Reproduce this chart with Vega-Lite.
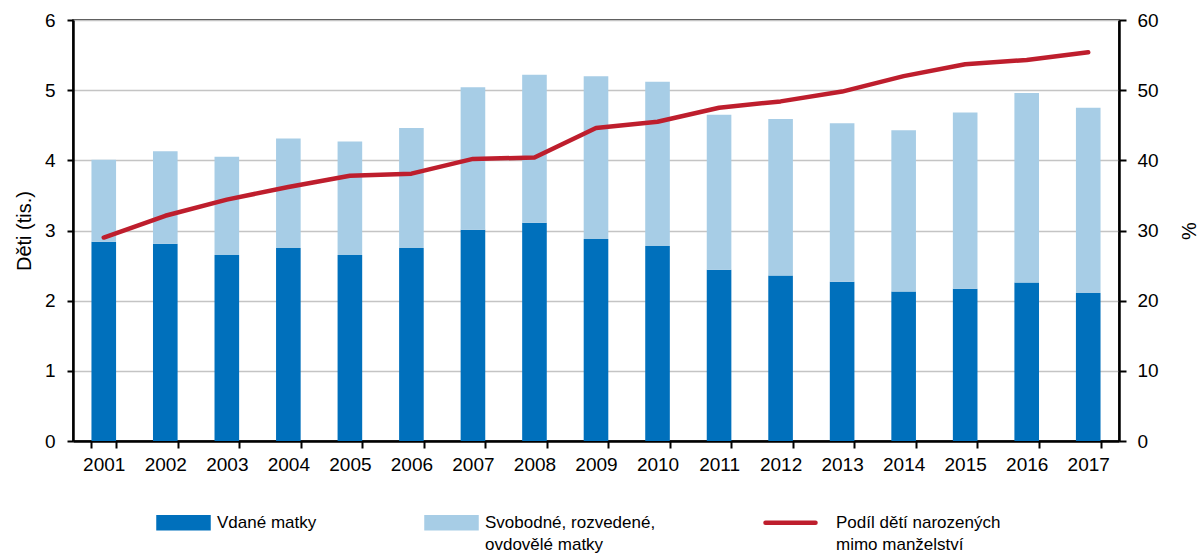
{
  "$schema": "https://vega.github.io/schema/vega-lite/v6.json",
  "width": 1046,
  "height": 421,
  "autosize": {"type": "none"},
  "padding": {"left": 73, "top": 20, "right": 84, "bottom": 119},
  "background": "white",
  "config": {
    "font": "Liberation Sans",
    "view": {"stroke": "black", "strokeWidth": 1.5},
    "axis": {
      "labelFont": "Liberation Sans", "labelFontSize": 19, "labelColor": "black",
      "titleFont": "Liberation Sans", "titleFontSize": 20, "titleFontWeight": "normal", "titleColor": "black",
      "domainColor": "black", "domainWidth": 2.5, "tickColor": "black", "tickWidth": 2, "tickSize": 6
    }
  },
  "datasets": {
    "bars": [
      {"year": "2001", "series": "Vdané matky", "value": 2.84},
      {"year": "2001", "series": "Svobodné, rozvedené, ovdovělé matky", "value": 1.17},
      {"year": "2002", "series": "Vdané matky", "value": 2.81},
      {"year": "2002", "series": "Svobodné, rozvedené, ovdovělé matky", "value": 1.32},
      {"year": "2003", "series": "Vdané matky", "value": 2.65},
      {"year": "2003", "series": "Svobodné, rozvedené, ovdovělé matky", "value": 1.40},
      {"year": "2004", "series": "Vdané matky", "value": 2.75},
      {"year": "2004", "series": "Svobodné, rozvedené, ovdovělé matky", "value": 1.56},
      {"year": "2005", "series": "Vdané matky", "value": 2.65},
      {"year": "2005", "series": "Svobodné, rozvedené, ovdovělé matky", "value": 1.62},
      {"year": "2006", "series": "Vdané matky", "value": 2.75},
      {"year": "2006", "series": "Svobodné, rozvedené, ovdovělé matky", "value": 1.71},
      {"year": "2007", "series": "Vdané matky", "value": 3.01},
      {"year": "2007", "series": "Svobodné, rozvedené, ovdovělé matky", "value": 2.03},
      {"year": "2008", "series": "Vdané matky", "value": 3.11},
      {"year": "2008", "series": "Svobodné, rozvedené, ovdovělé matky", "value": 2.11},
      {"year": "2009", "series": "Vdané matky", "value": 2.88},
      {"year": "2009", "series": "Svobodné, rozvedené, ovdovělé matky", "value": 2.32},
      {"year": "2010", "series": "Vdané matky", "value": 2.78},
      {"year": "2010", "series": "Svobodné, rozvedené, ovdovělé matky", "value": 2.34},
      {"year": "2011", "series": "Vdané matky", "value": 2.44},
      {"year": "2011", "series": "Svobodné, rozvedené, ovdovělé matky", "value": 2.21},
      {"year": "2012", "series": "Vdané matky", "value": 2.36},
      {"year": "2012", "series": "Svobodné, rozvedené, ovdovělé matky", "value": 2.23},
      {"year": "2013", "series": "Vdané matky", "value": 2.27},
      {"year": "2013", "series": "Svobodné, rozvedené, ovdovělé matky", "value": 2.26},
      {"year": "2014", "series": "Vdané matky", "value": 2.13},
      {"year": "2014", "series": "Svobodné, rozvedené, ovdovělé matky", "value": 2.30},
      {"year": "2015", "series": "Vdané matky", "value": 2.17},
      {"year": "2015", "series": "Svobodné, rozvedené, ovdovělé matky", "value": 2.51},
      {"year": "2016", "series": "Vdané matky", "value": 2.26},
      {"year": "2016", "series": "Svobodné, rozvedené, ovdovělé matky", "value": 2.70},
      {"year": "2017", "series": "Vdané matky", "value": 2.11},
      {"year": "2017", "series": "Svobodné, rozvedené, ovdovělé matky", "value": 2.64}
    ],
    "share": [
      {"year": "2001", "pct": 29.0},
      {"year": "2002", "pct": 32.1},
      {"year": "2003", "pct": 34.4},
      {"year": "2004", "pct": 36.2},
      {"year": "2005", "pct": 37.8},
      {"year": "2006", "pct": 38.1},
      {"year": "2007", "pct": 40.2},
      {"year": "2008", "pct": 40.4},
      {"year": "2009", "pct": 44.6},
      {"year": "2010", "pct": 45.5},
      {"year": "2011", "pct": 47.5},
      {"year": "2012", "pct": 48.4},
      {"year": "2013", "pct": 49.8},
      {"year": "2014", "pct": 52.0},
      {"year": "2015", "pct": 53.7},
      {"year": "2016", "pct": 54.3},
      {"year": "2017", "pct": 55.4}
    ]
  },
  "layer": [
    {
      "data": {"name": "bars"},
      "mark": {"type": "bar"},
      "encoding": {
        "x": {
          "field": "year", "type": "nominal",
          "scale": {"paddingInner": 0.6, "paddingOuter": 0.3},
          "axis": {"title": null, "labelAngle": 0, "tickBand": "extent", "labelPadding": 7, "grid": false, "tickSize": 7}
        },
        "y": {
          "field": "value", "type": "quantitative", "stack": "zero",
          "scale": {"domain": [0, 6], "nice": false},
          "axis": {
            "title": "Děti (tis.)", "values": [0, 1, 2, 3, 4, 5, 6], "grid": true,
            "gridColor": "#C4C4C4", "gridWidth": 1.5, "labelPadding": 12, "titlePadding": 10
          }
        },
        "color": {
          "field": "series", "type": "nominal",
          "scale": {
            "domain": ["Vdané matky", "Svobodné, rozvedené, ovdovělé matky", "Podíl dětí narozených mimo manželství"],
            "range": ["#0070BC", "#A7CDE6", "#BE1E2D"]
          },
          "legend": {
            "title": null,
            "orient": "none",
            "legendX": 82,
            "legendY": 494,
            "direction": "horizontal",
            "labelFont": "Liberation Sans",
            "labelFontSize": 17,
            "labelColor": "black",
            "labelLimit": 500,
            "symbolSize": 100,
            "labelOffset": 45,
            "columnPadding": 100,
            "labelExpr": "datum.label === 'Svobodné, rozvedené, ovdovělé matky' ? ['Svobodné, rozvedené,', 'ovdovělé matky'] : (datum.label === 'Podíl dětí narozených mimo manželství' ? ['Podíl dětí narozených', 'mimo manželství'] : [datum.label, ' '])",
            "encode": {
              "symbols": {
                "update": {
                  "shape": {"signal": "datum.value === 'Podíl dětí narozených mimo manželství' ? 'M0,0H10' : 'M-1,-1.1H9V1.1H-1Z'"},
                  "fill": {"signal": "datum.value === 'Podíl dětí narozených mimo manželství' ? 'transparent' : (datum.value === 'Vdané matky' ? '#0070BC' : '#A7CDE6')"},
                  "stroke": {"signal": "datum.value === 'Podíl dětí narozených mimo manželství' ? '#BE1E2D' : 'transparent'"},
                  "strokeWidth": {"value": 4.5},
                  "strokeCap": {"value": "round"},
                  "opacity": {"value": 1}
                }
              },
              "labels": {
                "update": {
                  "lineHeight": {"value": 22},
                  "dx": {"signal": "datum.value === 'Podíl dětí narozených mimo manželství' ? 17 : 0"}
                }
              }
            }
          }
        },
        "order": {"field": "series", "sort": "descending"}
      }
    },
    {
      "data": {"name": "share"},
      "mark": {"type": "line", "strokeWidth": 4.5, "strokeCap": "round", "strokeJoin": "round"},
      "encoding": {
        "x": {"field": "year", "type": "nominal"},
        "y": {
          "field": "pct", "type": "quantitative",
          "scale": {"domain": [0, 60], "nice": false},
          "axis": {
            "orient": "right", "title": "%", "values": [0, 10, 20, 30, 40, 50, 60],
            "grid": false, "labelPadding": 11, "titleAngle": 270, "titlePadding": 41, "tickSize": 7
          }
        },
        "color": {"datum": "Podíl dětí narozených mimo manželství"}
      }
    }
  ],
  "resolve": {"scale": {"y": "independent"}}
}
